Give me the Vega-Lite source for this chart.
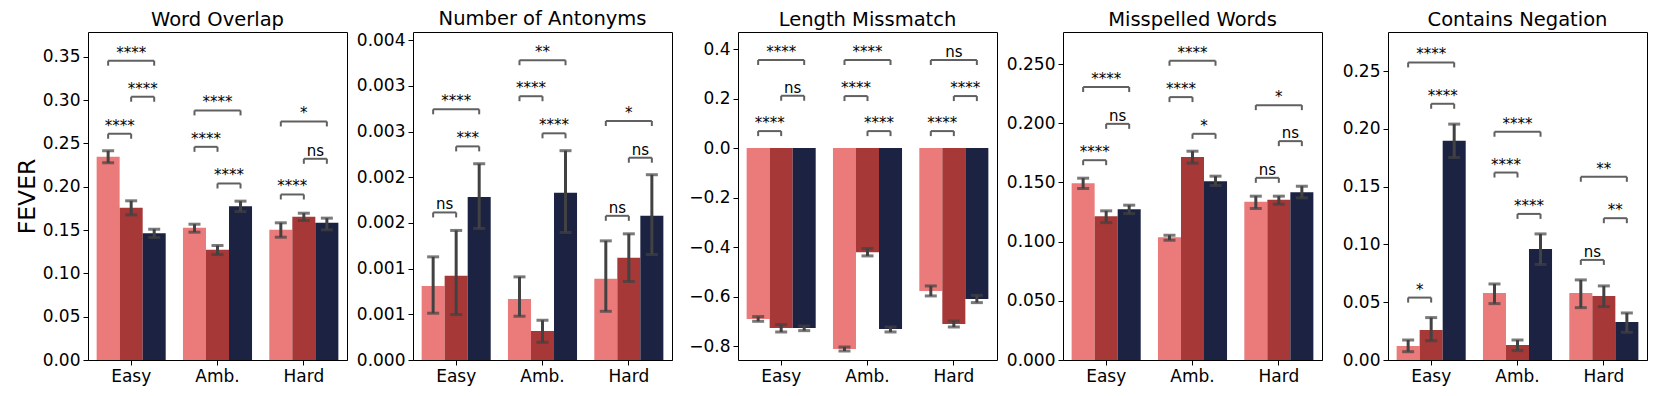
{
"$schema": "https://vega.github.io/schema/vega-lite/v6.json",
"padding": {"left": 14, "top": 8, "right": 5, "bottom": 5},
"spacing": 66,
"bounds": "flush",
"datasets": {
"bars": [
{"p":"Word Overlap","g":"Easy","s":1,"v":0.2345,"lo":0.2276,"hi":0.2414},
{"p":"Word Overlap","g":"Easy","s":2,"v":0.1756,"lo":0.1675,"hi":0.1837},
{"p":"Word Overlap","g":"Easy","s":3,"v":0.1463,"lo":0.1413,"hi":0.1509},
{"p":"Word Overlap","g":"Amb.","s":1,"v":0.1525,"lo":0.1475,"hi":0.1567},
{"p":"Word Overlap","g":"Amb.","s":2,"v":0.1271,"lo":0.1217,"hi":0.1321},
{"p":"Word Overlap","g":"Amb.","s":3,"v":0.1775,"lo":0.1713,"hi":0.1833},
{"p":"Word Overlap","g":"Hard","s":1,"v":0.1502,"lo":0.1417,"hi":0.1583},
{"p":"Word Overlap","g":"Hard","s":2,"v":0.1652,"lo":0.1610,"hi":0.1694},
{"p":"Word Overlap","g":"Hard","s":3,"v":0.1583,"lo":0.1502,"hi":0.1637},
{"p":"Number of Antonyms","g":"Easy","s":1,"v":0.000811,"lo":0.000512,"hi":0.001129},
{"p":"Number of Antonyms","g":"Easy","s":2,"v":0.000921,"lo":0.000497,"hi":0.001418},
{"p":"Number of Antonyms","g":"Easy","s":3,"v":0.001783,"lo":0.001440,"hi":0.002148},
{"p":"Number of Antonyms","g":"Amb.","s":1,"v":0.000669,"lo":0.000479,"hi":0.000910},
{"p":"Number of Antonyms","g":"Amb.","s":2,"v":0.000318,"lo":0.000194,"hi":0.000435},
{"p":"Number of Antonyms","g":"Amb.","s":3,"v":0.001831,"lo":0.001396,"hi":0.002291},
{"p":"Number of Antonyms","g":"Hard","s":1,"v":0.000888,"lo":0.000533,"hi":0.001304},
{"p":"Number of Antonyms","g":"Hard","s":2,"v":0.001118,"lo":0.000859,"hi":0.001381},
{"p":"Number of Antonyms","g":"Hard","s":3,"v":0.001578,"lo":0.001155,"hi":0.002028},
{"p":"Length Missmatch","g":"Easy","s":1,"v":-0.6896,"lo":-0.699,"hi":-0.680},
{"p":"Length Missmatch","g":"Easy","s":2,"v":-0.7259,"lo":-0.7421,"hi":-0.7125},
{"p":"Length Missmatch","g":"Easy","s":3,"v":-0.7259,"lo":-0.7367,"hi":-0.718},
{"p":"Length Missmatch","g":"Amb.","s":1,"v":-0.8108,"lo":-0.8189,"hi":-0.8027},
{"p":"Length Missmatch","g":"Amb.","s":2,"v":-0.4202,"lo":-0.435,"hi":-0.4054},
{"p":"Length Missmatch","g":"Amb.","s":3,"v":-0.7300,"lo":-0.742,"hi":-0.7219},
{"p":"Length Missmatch","g":"Hard","s":1,"v":-0.5764,"lo":-0.5966,"hi":-0.5562},
{"p":"Length Missmatch","g":"Hard","s":2,"v":-0.7098,"lo":-0.7219,"hi":-0.6976},
{"p":"Length Missmatch","g":"Hard","s":3,"v":-0.6088,"lo":-0.6236,"hi":-0.594},
{"p":"Misspelled Words","g":"Easy","s":1,"v":0.1494,"lo":0.1449,"hi":0.1536},
{"p":"Misspelled Words","g":"Easy","s":2,"v":0.1215,"lo":0.1161,"hi":0.1260},
{"p":"Misspelled Words","g":"Easy","s":3,"v":0.1274,"lo":0.1237,"hi":0.1308},
{"p":"Misspelled Words","g":"Amb.","s":1,"v":0.1037,"lo":0.1012,"hi":0.1054},
{"p":"Misspelled Words","g":"Amb.","s":2,"v":0.1716,"lo":0.1663,"hi":0.1764},
{"p":"Misspelled Words","g":"Amb.","s":3,"v":0.1511,"lo":0.1474,"hi":0.1553},
{"p":"Misspelled Words","g":"Hard","s":1,"v":0.1336,"lo":0.1280,"hi":0.1384},
{"p":"Misspelled Words","g":"Hard","s":2,"v":0.1353,"lo":0.1316,"hi":0.1384},
{"p":"Misspelled Words","g":"Hard","s":3,"v":0.1418,"lo":0.1370,"hi":0.1468},
{"p":"Contains Negation","g":"Easy","s":1,"v":0.0121,"lo":0.0072,"hi":0.0173},
{"p":"Contains Negation","g":"Easy","s":2,"v":0.0260,"lo":0.0167,"hi":0.0367},
{"p":"Contains Negation","g":"Easy","s":3,"v":0.1897,"lo":0.1752,"hi":0.2041},
{"p":"Contains Negation","g":"Amb.","s":1,"v":0.0580,"lo":0.0488,"hi":0.0658},
{"p":"Contains Negation","g":"Amb.","s":2,"v":0.0130,"lo":0.0081,"hi":0.0173},
{"p":"Contains Negation","g":"Amb.","s":3,"v":0.0961,"lo":0.0826,"hi":0.1091},
{"p":"Contains Negation","g":"Hard","s":1,"v":0.0580,"lo":0.0453,"hi":0.0693},
{"p":"Contains Negation","g":"Hard","s":2,"v":0.0554,"lo":0.0462,"hi":0.0641},
{"p":"Contains Negation","g":"Hard","s":3,"v":0.0329,"lo":0.0240,"hi":0.0407}
],
"brk": [
{"p":"Word Overlap","g":"Easy","a":1,"b":2,"y":0.2611,"t":"****"},
{"p":"Word Overlap","g":"Easy","a":2,"b":3,"y":0.3038,"t":"****"},
{"p":"Word Overlap","g":"Easy","a":1,"b":3,"y":0.3454,"t":"****"},
{"p":"Word Overlap","g":"Amb.","a":1,"b":2,"y":0.2460,"t":"****"},
{"p":"Word Overlap","g":"Amb.","a":2,"b":3,"y":0.2037,"t":"****"},
{"p":"Word Overlap","g":"Amb.","a":1,"b":3,"y":0.2880,"t":"****"},
{"p":"Word Overlap","g":"Hard","a":1,"b":2,"y":0.1910,"t":"****"},
{"p":"Word Overlap","g":"Hard","a":2,"b":3,"y":0.2322,"t":"ns"},
{"p":"Word Overlap","g":"Hard","a":1,"b":3,"y":0.2753,"t":"*"},
{"p":"Number of Antonyms","g":"Easy","a":1,"b":2,"y":0.001615,"t":"ns"},
{"p":"Number of Antonyms","g":"Easy","a":2,"b":3,"y":0.002338,"t":"***"},
{"p":"Number of Antonyms","g":"Easy","a":1,"b":3,"y":0.002744,"t":"****"},
{"p":"Number of Antonyms","g":"Amb.","a":1,"b":2,"y":0.002887,"t":"****"},
{"p":"Number of Antonyms","g":"Amb.","a":2,"b":3,"y":0.002481,"t":"****"},
{"p":"Number of Antonyms","g":"Amb.","a":1,"b":3,"y":0.003281,"t":"**"},
{"p":"Number of Antonyms","g":"Hard","a":1,"b":2,"y":0.001578,"t":"ns"},
{"p":"Number of Antonyms","g":"Hard","a":2,"b":3,"y":0.002214,"t":"ns"},
{"p":"Number of Antonyms","g":"Hard","a":1,"b":3,"y":0.002616,"t":"*"},
{"p":"Length Missmatch","g":"Easy","a":1,"b":2,"y":0.0687,"t":"****"},
{"p":"Length Missmatch","g":"Easy","a":2,"b":3,"y":0.2114,"t":"ns"},
{"p":"Length Missmatch","g":"Easy","a":1,"b":3,"y":0.3556,"t":"****"},
{"p":"Length Missmatch","g":"Amb.","a":1,"b":2,"y":0.2101,"t":"****"},
{"p":"Length Missmatch","g":"Amb.","a":2,"b":3,"y":0.0687,"t":"****"},
{"p":"Length Missmatch","g":"Amb.","a":1,"b":3,"y":0.3556,"t":"****"},
{"p":"Length Missmatch","g":"Hard","a":1,"b":2,"y":0.0687,"t":"****"},
{"p":"Length Missmatch","g":"Hard","a":2,"b":3,"y":0.2101,"t":"****"},
{"p":"Length Missmatch","g":"Hard","a":1,"b":3,"y":0.3556,"t":"ns"},
{"p":"Misspelled Words","g":"Easy","a":1,"b":2,"y":0.1688,"t":"****"},
{"p":"Misspelled Words","g":"Easy","a":2,"b":3,"y":0.1995,"t":"ns"},
{"p":"Misspelled Words","g":"Easy","a":1,"b":3,"y":0.2306,"t":"****"},
{"p":"Misspelled Words","g":"Amb.","a":1,"b":2,"y":0.2221,"t":"****"},
{"p":"Misspelled Words","g":"Amb.","a":2,"b":3,"y":0.1911,"t":"*"},
{"p":"Misspelled Words","g":"Amb.","a":1,"b":3,"y":0.2528,"t":"****"},
{"p":"Misspelled Words","g":"Hard","a":1,"b":2,"y":0.1539,"t":"ns"},
{"p":"Misspelled Words","g":"Hard","a":2,"b":3,"y":0.1849,"t":"ns"},
{"p":"Misspelled Words","g":"Hard","a":1,"b":3,"y":0.2153,"t":"*"},
{"p":"Contains Negation","g":"Easy","a":1,"b":2,"y":0.0540,"t":"*"},
{"p":"Contains Negation","g":"Easy","a":2,"b":3,"y":0.2217,"t":"****"},
{"p":"Contains Negation","g":"Easy","a":1,"b":3,"y":0.2575,"t":"****"},
{"p":"Contains Negation","g":"Amb.","a":1,"b":2,"y":0.1622,"t":"****"},
{"p":"Contains Negation","g":"Amb.","a":2,"b":3,"y":0.1264,"t":"****"},
{"p":"Contains Negation","g":"Amb.","a":1,"b":3,"y":0.1975,"t":"****"},
{"p":"Contains Negation","g":"Hard","a":1,"b":2,"y":0.0866,"t":"ns"},
{"p":"Contains Negation","g":"Hard","a":2,"b":3,"y":0.1227,"t":"**"},
{"p":"Contains Negation","g":"Hard","a":1,"b":3,"y":0.1585,"t":"**"}
]
},
"hconcat": [
{
"width": 259, "height": 328,
"title": "Word Overlap",
"encoding": {
 "x": {"field": "g", "type": "nominal", "title": null, "scale": {"domain": ["Easy","Amb.","Hard"], "paddingInner": 0.2, "paddingOuter": 0.1}, "axis": {"labelAngle": 0, "domain": true, "domainColor": "black", "zindex": 1}},
 "xOffset": {"field": "s", "type": "nominal", "scale": {"domain": [1,2,3], "paddingInner": 0, "paddingOuter": 0}}
},
"layer": [
 {"data": {"name": "bars"}, "transform": [{"filter": "datum.p == 'Word Overlap'"}], "mark": {"type": "bar"},
  "encoding": {"y": {"field": "v", "type": "quantitative", "scale": {"domain": [0, 0.3785], "nice": false, "zero": false}, "axis": {"title": "FEVER", "values": [0,0.05,0.1,0.15,0.2,0.25,0.3,0.35], "format": ".2f"}},
   "color": {"field": "s", "type": "nominal", "scale": {"domain": [1,2,3], "range": ["#eb7b7b","#a63838","#1c2241"]}, "legend": null}}},
 {"data": {"name": "bars"}, "transform": [{"filter": "datum.p == 'Word Overlap'"}], "mark": {"type": "rule", "color": "#424242", "strokeWidth": 3},
  "encoding": {"y": {"field": "lo", "type": "quantitative"}, "y2": {"field": "hi"}}},
 {"data": {"name": "bars"}, "transform": [{"filter": "datum.p == 'Word Overlap'"}], "mark": {"type": "tick", "orient": "horizontal", "size": 12, "thickness": 3, "color": "#424242"},
  "encoding": {"y": {"field": "lo", "type": "quantitative"}}},
 {"data": {"name": "bars"}, "transform": [{"filter": "datum.p == 'Word Overlap'"}], "mark": {"type": "tick", "orient": "horizontal", "size": 12, "thickness": 3, "color": "#424242"},
  "encoding": {"y": {"field": "hi", "type": "quantitative"}}},
 {"data": {"name": "brk"}, "transform": [{"filter": "datum.p == 'Word Overlap'"}, {"fold": ["a","b"], "as": ["end","s"]}], "mark": {"type": "line", "color": "#606060", "strokeWidth": 2},
  "encoding": {"y": {"field": "y", "type": "quantitative"}, "detail": [{"field": "g"}, {"field": "a"}, {"field": "b"}], "order": {"field": "s", "type": "quantitative"}}},
 {"data": {"name": "brk"}, "transform": [{"filter": "datum.p == 'Word Overlap'"}, {"fold": ["a","b"], "as": ["end","s"]}], "mark": {"type": "rule", "color": "#606060", "strokeWidth": 2, "y2Offset": 5},
  "encoding": {"y": {"field": "y", "type": "quantitative"}, "y2": {"field": "y"}}},
 {"data": {"name": "brk"}, "transform": [{"filter": "datum.p == 'Word Overlap' && datum.b - datum.a == 1"}], "mark": {"type": "text", "fontSize": 15, "dx": 11.5, "dy": -3, "baseline": "alphabetic", "color": "black"},
  "encoding": {"xOffset": {"field": "a", "type": "nominal"}, "y": {"field": "y", "type": "quantitative"}, "text": {"field": "t"}}},
 {"data": {"name": "brk"}, "transform": [{"filter": "datum.p == 'Word Overlap' && datum.b - datum.a == 2"}], "mark": {"type": "text", "fontSize": 15, "dx": 23, "dy": -3, "baseline": "alphabetic", "color": "black"},
  "encoding": {"xOffset": {"field": "a", "type": "nominal"}, "y": {"field": "y", "type": "quantitative"}, "text": {"field": "t"}}}
]
},
{
"width": 259, "height": 328,
"title": "Number of Antonyms",
"encoding": {
 "x": {"field": "g", "type": "nominal", "title": null, "scale": {"domain": ["Easy","Amb.","Hard"], "paddingInner": 0.2, "paddingOuter": 0.1}, "axis": {"labelAngle": 0, "domain": true, "domainColor": "black", "zindex": 1}},
 "xOffset": {"field": "s", "type": "nominal", "scale": {"domain": [1,2,3], "paddingInner": 0, "paddingOuter": 0}}
},
"layer": [
 {"data": {"name": "bars"}, "transform": [{"filter": "datum.p == 'Number of Antonyms'"}], "mark": {"type": "bar"},
  "encoding": {"y": {"field": "v", "type": "quantitative", "scale": {"domain": [0, 0.00359], "nice": false, "zero": false}, "axis": {"title": null, "values": [0,0.0005,0.001,0.0015,0.002,0.0025,0.003,0.0035], "labelExpr": "format(datum.value + 1e-9, '.3f')"}},
   "color": {"field": "s", "type": "nominal", "scale": {"domain": [1,2,3], "range": ["#eb7b7b","#a63838","#1c2241"]}, "legend": null}}},
 {"data": {"name": "bars"}, "transform": [{"filter": "datum.p == 'Number of Antonyms'"}], "mark": {"type": "rule", "color": "#424242", "strokeWidth": 3},
  "encoding": {"y": {"field": "lo", "type": "quantitative"}, "y2": {"field": "hi"}}},
 {"data": {"name": "bars"}, "transform": [{"filter": "datum.p == 'Number of Antonyms'"}], "mark": {"type": "tick", "orient": "horizontal", "size": 12, "thickness": 3, "color": "#424242"},
  "encoding": {"y": {"field": "lo", "type": "quantitative"}}},
 {"data": {"name": "bars"}, "transform": [{"filter": "datum.p == 'Number of Antonyms'"}], "mark": {"type": "tick", "orient": "horizontal", "size": 12, "thickness": 3, "color": "#424242"},
  "encoding": {"y": {"field": "hi", "type": "quantitative"}}},
 {"data": {"name": "brk"}, "transform": [{"filter": "datum.p == 'Number of Antonyms'"}, {"fold": ["a","b"], "as": ["end","s"]}], "mark": {"type": "line", "color": "#606060", "strokeWidth": 2},
  "encoding": {"y": {"field": "y", "type": "quantitative"}, "detail": [{"field": "g"}, {"field": "a"}, {"field": "b"}], "order": {"field": "s", "type": "quantitative"}}},
 {"data": {"name": "brk"}, "transform": [{"filter": "datum.p == 'Number of Antonyms'"}, {"fold": ["a","b"], "as": ["end","s"]}], "mark": {"type": "rule", "color": "#606060", "strokeWidth": 2, "y2Offset": 5},
  "encoding": {"y": {"field": "y", "type": "quantitative"}, "y2": {"field": "y"}}},
 {"data": {"name": "brk"}, "transform": [{"filter": "datum.p == 'Number of Antonyms' && datum.b - datum.a == 1"}], "mark": {"type": "text", "fontSize": 15, "dx": 11.5, "dy": -3, "baseline": "alphabetic", "color": "black"},
  "encoding": {"xOffset": {"field": "a", "type": "nominal"}, "y": {"field": "y", "type": "quantitative"}, "text": {"field": "t"}}},
 {"data": {"name": "brk"}, "transform": [{"filter": "datum.p == 'Number of Antonyms' && datum.b - datum.a == 2"}], "mark": {"type": "text", "fontSize": 15, "dx": 23, "dy": -3, "baseline": "alphabetic", "color": "black"},
  "encoding": {"xOffset": {"field": "a", "type": "nominal"}, "y": {"field": "y", "type": "quantitative"}, "text": {"field": "t"}}}
]
},
{
"width": 259, "height": 328,
"title": "Length Missmatch",
"encoding": {
 "x": {"field": "g", "type": "nominal", "title": null, "scale": {"domain": ["Easy","Amb.","Hard"], "paddingInner": 0.2, "paddingOuter": 0.1}, "axis": {"labelAngle": 0}},
 "xOffset": {"field": "s", "type": "nominal", "scale": {"domain": [1,2,3], "paddingInner": 0, "paddingOuter": 0}}
},
"layer": [
 {"data": {"name": "bars"}, "transform": [{"filter": "datum.p == 'Length Missmatch'"}], "mark": {"type": "bar"},
  "encoding": {"y": {"field": "v", "type": "quantitative", "scale": {"domain": [-0.8552, 0.4687], "nice": false, "zero": false}, "axis": {"title": null, "values": [-0.8,-0.6,-0.4,-0.2,0,0.2,0.4], "format": ".1f"}},
   "color": {"field": "s", "type": "nominal", "scale": {"domain": [1,2,3], "range": ["#eb7b7b","#a63838","#1c2241"]}, "legend": null}}},
 {"data": {"name": "bars"}, "transform": [{"filter": "datum.p == 'Length Missmatch'"}], "mark": {"type": "rule", "color": "#424242", "strokeWidth": 3},
  "encoding": {"y": {"field": "lo", "type": "quantitative"}, "y2": {"field": "hi"}}},
 {"data": {"name": "bars"}, "transform": [{"filter": "datum.p == 'Length Missmatch'"}], "mark": {"type": "tick", "orient": "horizontal", "size": 12, "thickness": 3, "color": "#424242"},
  "encoding": {"y": {"field": "lo", "type": "quantitative"}}},
 {"data": {"name": "bars"}, "transform": [{"filter": "datum.p == 'Length Missmatch'"}], "mark": {"type": "tick", "orient": "horizontal", "size": 12, "thickness": 3, "color": "#424242"},
  "encoding": {"y": {"field": "hi", "type": "quantitative"}}},
 {"data": {"name": "brk"}, "transform": [{"filter": "datum.p == 'Length Missmatch'"}, {"fold": ["a","b"], "as": ["end","s"]}], "mark": {"type": "line", "color": "#606060", "strokeWidth": 2},
  "encoding": {"y": {"field": "y", "type": "quantitative"}, "detail": [{"field": "g"}, {"field": "a"}, {"field": "b"}], "order": {"field": "s", "type": "quantitative"}}},
 {"data": {"name": "brk"}, "transform": [{"filter": "datum.p == 'Length Missmatch'"}, {"fold": ["a","b"], "as": ["end","s"]}], "mark": {"type": "rule", "color": "#606060", "strokeWidth": 2, "y2Offset": 5},
  "encoding": {"y": {"field": "y", "type": "quantitative"}, "y2": {"field": "y"}}},
 {"data": {"name": "brk"}, "transform": [{"filter": "datum.p == 'Length Missmatch' && datum.b - datum.a == 1"}], "mark": {"type": "text", "fontSize": 15, "dx": 11.5, "dy": -3, "baseline": "alphabetic", "color": "black"},
  "encoding": {"xOffset": {"field": "a", "type": "nominal"}, "y": {"field": "y", "type": "quantitative"}, "text": {"field": "t"}}},
 {"data": {"name": "brk"}, "transform": [{"filter": "datum.p == 'Length Missmatch' && datum.b - datum.a == 2"}], "mark": {"type": "text", "fontSize": 15, "dx": 23, "dy": -3, "baseline": "alphabetic", "color": "black"},
  "encoding": {"xOffset": {"field": "a", "type": "nominal"}, "y": {"field": "y", "type": "quantitative"}, "text": {"field": "t"}}}
]
},
{
"width": 259, "height": 328,
"title": "Misspelled Words",
"encoding": {
 "x": {"field": "g", "type": "nominal", "title": null, "scale": {"domain": ["Easy","Amb.","Hard"], "paddingInner": 0.2, "paddingOuter": 0.1}, "axis": {"labelAngle": 0, "domain": true, "domainColor": "black", "zindex": 1}},
 "xOffset": {"field": "s", "type": "nominal", "scale": {"domain": [1,2,3], "paddingInner": 0, "paddingOuter": 0}}
},
"layer": [
 {"data": {"name": "bars"}, "transform": [{"filter": "datum.p == 'Misspelled Words'"}], "mark": {"type": "bar"},
  "encoding": {"y": {"field": "v", "type": "quantitative", "scale": {"domain": [0, 0.2771], "nice": false, "zero": false}, "axis": {"title": null, "values": [0,0.05,0.1,0.15,0.2,0.25], "format": ".3f"}},
   "color": {"field": "s", "type": "nominal", "scale": {"domain": [1,2,3], "range": ["#eb7b7b","#a63838","#1c2241"]}, "legend": null}}},
 {"data": {"name": "bars"}, "transform": [{"filter": "datum.p == 'Misspelled Words'"}], "mark": {"type": "rule", "color": "#424242", "strokeWidth": 3},
  "encoding": {"y": {"field": "lo", "type": "quantitative"}, "y2": {"field": "hi"}}},
 {"data": {"name": "bars"}, "transform": [{"filter": "datum.p == 'Misspelled Words'"}], "mark": {"type": "tick", "orient": "horizontal", "size": 12, "thickness": 3, "color": "#424242"},
  "encoding": {"y": {"field": "lo", "type": "quantitative"}}},
 {"data": {"name": "bars"}, "transform": [{"filter": "datum.p == 'Misspelled Words'"}], "mark": {"type": "tick", "orient": "horizontal", "size": 12, "thickness": 3, "color": "#424242"},
  "encoding": {"y": {"field": "hi", "type": "quantitative"}}},
 {"data": {"name": "brk"}, "transform": [{"filter": "datum.p == 'Misspelled Words'"}, {"fold": ["a","b"], "as": ["end","s"]}], "mark": {"type": "line", "color": "#606060", "strokeWidth": 2},
  "encoding": {"y": {"field": "y", "type": "quantitative"}, "detail": [{"field": "g"}, {"field": "a"}, {"field": "b"}], "order": {"field": "s", "type": "quantitative"}}},
 {"data": {"name": "brk"}, "transform": [{"filter": "datum.p == 'Misspelled Words'"}, {"fold": ["a","b"], "as": ["end","s"]}], "mark": {"type": "rule", "color": "#606060", "strokeWidth": 2, "y2Offset": 5},
  "encoding": {"y": {"field": "y", "type": "quantitative"}, "y2": {"field": "y"}}},
 {"data": {"name": "brk"}, "transform": [{"filter": "datum.p == 'Misspelled Words' && datum.b - datum.a == 1"}], "mark": {"type": "text", "fontSize": 15, "dx": 11.5, "dy": -3, "baseline": "alphabetic", "color": "black"},
  "encoding": {"xOffset": {"field": "a", "type": "nominal"}, "y": {"field": "y", "type": "quantitative"}, "text": {"field": "t"}}},
 {"data": {"name": "brk"}, "transform": [{"filter": "datum.p == 'Misspelled Words' && datum.b - datum.a == 2"}], "mark": {"type": "text", "fontSize": 15, "dx": 23, "dy": -3, "baseline": "alphabetic", "color": "black"},
  "encoding": {"xOffset": {"field": "a", "type": "nominal"}, "y": {"field": "y", "type": "quantitative"}, "text": {"field": "t"}}}
]
},
{
"width": 259, "height": 328,
"title": "Contains Negation",
"encoding": {
 "x": {"field": "g", "type": "nominal", "title": null, "scale": {"domain": ["Easy","Amb.","Hard"], "paddingInner": 0.2, "paddingOuter": 0.1}, "axis": {"labelAngle": 0, "domain": true, "domainColor": "black", "zindex": 1}},
 "xOffset": {"field": "s", "type": "nominal", "scale": {"domain": [1,2,3], "paddingInner": 0, "paddingOuter": 0}}
},
"layer": [
 {"data": {"name": "bars"}, "transform": [{"filter": "datum.p == 'Contains Negation'"}], "mark": {"type": "bar"},
  "encoding": {"y": {"field": "v", "type": "quantitative", "scale": {"domain": [0, 0.2838], "nice": false, "zero": false}, "axis": {"title": null, "values": [0,0.05,0.1,0.15,0.2,0.25], "format": ".2f"}},
   "color": {"field": "s", "type": "nominal", "scale": {"domain": [1,2,3], "range": ["#eb7b7b","#a63838","#1c2241"]}, "legend": null}}},
 {"data": {"name": "bars"}, "transform": [{"filter": "datum.p == 'Contains Negation'"}], "mark": {"type": "rule", "color": "#424242", "strokeWidth": 3},
  "encoding": {"y": {"field": "lo", "type": "quantitative"}, "y2": {"field": "hi"}}},
 {"data": {"name": "bars"}, "transform": [{"filter": "datum.p == 'Contains Negation'"}], "mark": {"type": "tick", "orient": "horizontal", "size": 12, "thickness": 3, "color": "#424242"},
  "encoding": {"y": {"field": "lo", "type": "quantitative"}}},
 {"data": {"name": "bars"}, "transform": [{"filter": "datum.p == 'Contains Negation'"}], "mark": {"type": "tick", "orient": "horizontal", "size": 12, "thickness": 3, "color": "#424242"},
  "encoding": {"y": {"field": "hi", "type": "quantitative"}}},
 {"data": {"name": "brk"}, "transform": [{"filter": "datum.p == 'Contains Negation'"}, {"fold": ["a","b"], "as": ["end","s"]}], "mark": {"type": "line", "color": "#606060", "strokeWidth": 2},
  "encoding": {"y": {"field": "y", "type": "quantitative"}, "detail": [{"field": "g"}, {"field": "a"}, {"field": "b"}], "order": {"field": "s", "type": "quantitative"}}},
 {"data": {"name": "brk"}, "transform": [{"filter": "datum.p == 'Contains Negation'"}, {"fold": ["a","b"], "as": ["end","s"]}], "mark": {"type": "rule", "color": "#606060", "strokeWidth": 2, "y2Offset": 5},
  "encoding": {"y": {"field": "y", "type": "quantitative"}, "y2": {"field": "y"}}},
 {"data": {"name": "brk"}, "transform": [{"filter": "datum.p == 'Contains Negation' && datum.b - datum.a == 1"}], "mark": {"type": "text", "fontSize": 15, "dx": 11.5, "dy": -3, "baseline": "alphabetic", "color": "black"},
  "encoding": {"xOffset": {"field": "a", "type": "nominal"}, "y": {"field": "y", "type": "quantitative"}, "text": {"field": "t"}}},
 {"data": {"name": "brk"}, "transform": [{"filter": "datum.p == 'Contains Negation' && datum.b - datum.a == 2"}], "mark": {"type": "text", "fontSize": 15, "dx": 23, "dy": -3, "baseline": "alphabetic", "color": "black"},
  "encoding": {"xOffset": {"field": "a", "type": "nominal"}, "y": {"field": "y", "type": "quantitative"}, "text": {"field": "t"}}}
]
}
],
"config": {
 "font": "DejaVu Sans",
 "background": "white",
 "view": {"stroke": "black", "strokeWidth": 1},
 "axis": {"labelFont": "DejaVu Sans", "labelFontSize": 17, "labelColor": "black", "tickColor": "black", "tickSize": 5, "tickWidth": 1, "labelPadding": 3, "domain": false, "grid": false, "titleFont": "DejaVu Sans", "titleFontWeight": "normal", "titleColor": "black"},
 "axisY": {"titleFontSize": 23.5, "titlePadding": 3},
 "title": {"font": "DejaVu Sans", "fontSize": 19.5, "fontWeight": "normal", "color": "black", "offset": 2, "baseline": "alphabetic"},
 "text": {"font": "DejaVu Sans"}
}
}
